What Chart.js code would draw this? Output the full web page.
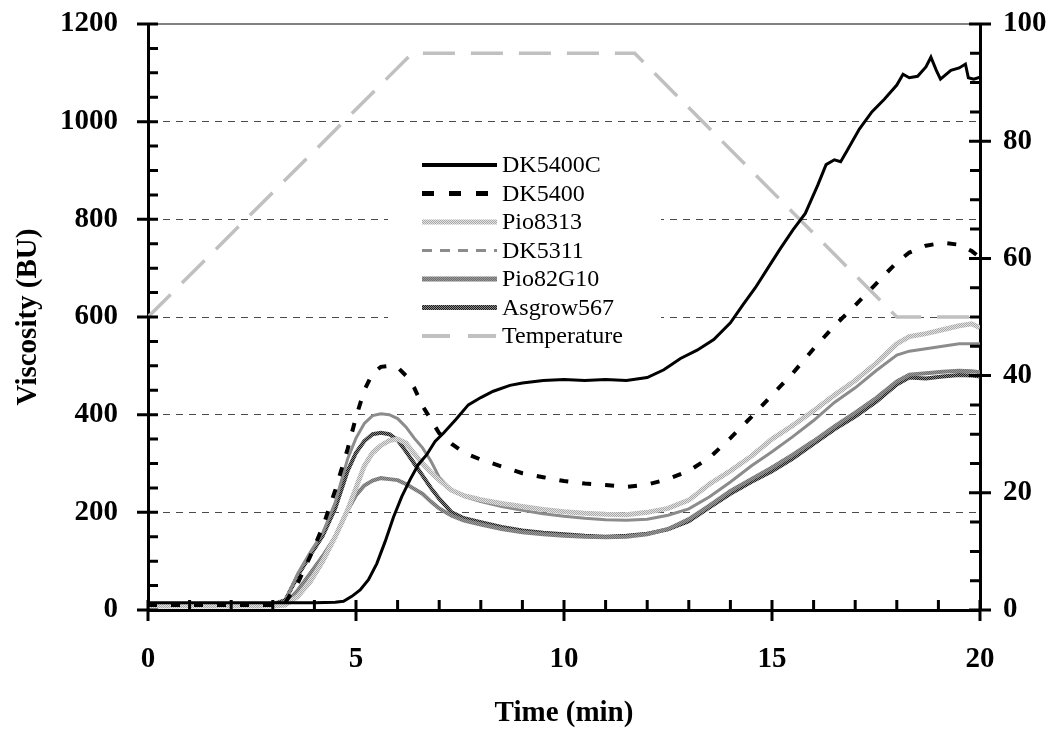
<!DOCTYPE html>
<html><head><meta charset="utf-8">
<script src="https://cdn.jsdelivr.net/npm/chart.js@4.4.1/dist/chart.umd.min.js"></script>
<style>html,body{margin:0;padding:0;background:#fff}</style>
</head><body>
<canvas id="c" width="1056" height="736" style="width:1056px;height:736px;display:block"></canvas>
<script>
// ---------- DATA ----------
const timeDK5400C = [0,1,2,3,4,4.5,4.7,4.9,5.1,5.3,5.5,5.7,5.9,6.1,6.3,6.5,6.7,6.9,7.1,7.4,7.7,8.0,8.3,8.7,9.0,9.5,10,10.5,11,11.5,12,12.4,12.8,13.2,13.6,14.0,14.3,14.6,14.9,15.2,15.5,15.8,16.1,16.3,16.5,16.65,16.8,17.1,17.4,17.7,18.0,18.15,18.3,18.5,18.7,18.82,18.95,19.05,19.3,19.5,19.65,19.72,19.85,20];
const viscDK5400C = [15,15,15,15,15,16,18,28,41,62,95,140,190,232,267,298,318,345,362,390,420,435,448,460,465,470,472,470,472,470,476,492,515,532,554,588,625,660,700,740,778,812,870,912,922,918,940,985,1020,1046,1075,1097,1090,1093,1112,1132,1105,1087,1105,1110,1118,1090,1087,1091];

const timeGroup = [0,1,2,3,3.3,3.6,3.9,4.2,4.5,4.8,5.0,5.2,5.4,5.6,5.8,6.0,6.2,6.4,6.6,6.8,7.0,7.3,7.6,8.0,8.5,9.0,9.5,10,10.5,11,11.5,12,12.5,13,13.5,14,14.5,15,15.5,16,16.5,17,17.5,18,18.3,18.7,19.1,19.5,19.8,20];
const viscDK5400   = [10,10,10,10,15,55,110,170,245,330,395,450,485,498,500,497,480,455,418,390,362,340,322,308,294,280,272,264,259,256,252,257,268,285,312,352,395,440,485,535,582,624,668,712,732,746,752,748,735,722];
const viscPio8313  = [8,8,8,8,10,28,58,100,150,205,250,295,322,337,347,350,342,320,300,282,266,245,234,226,218,212,206,201,198,196,195,200,208,225,258,285,315,350,378,408,440,470,505,545,560,566,574,582,586,578];
const viscDK5311   = [8,8,8,8,18,75,118,158,220,310,352,382,398,402,400,392,375,352,332,305,272,245,232,222,212,204,197,192,188,185,184,186,194,207,232,262,295,324,355,388,425,455,490,522,530,535,540,545,545,545];
const viscPio82G10 = [8,8,8,8,12,40,75,110,150,205,235,255,265,270,268,266,258,248,238,222,208,193,183,175,166,159,155,152,150,149,150,155,166,186,214,244,268,292,318,346,376,404,434,468,482,485,488,490,489,487];
const viscAsgrow567= [12,12,12,12,20,70,112,152,208,285,322,346,360,363,360,348,325,300,275,250,228,200,188,180,170,163,158,155,152,150,152,156,165,182,210,238,262,284,310,340,370,396,426,462,476,474,478,481,480,478];

const timeTemp = [0,6.35,11.7,18.0,20];
const tempC    = [50,95,95,50,50];

const viscTicks = [0,200,400,600,800,1000,1200];
const tempTicks = [0,20,40,60,80,100];
const timeTicks = [0,5,10,15,20];

// ---------- helpers ----------
const pts = (xs, ys) => xs.map((x, i) => ({x: x, y: ys[i]}));
const canvas = document.getElementById('c');
const ctx0 = canvas.getContext('2d');
function pattern(c1, c2) {
  const cv = document.createElement('canvas'); cv.width = 2; cv.height = 2;
  const g = cv.getContext('2d');
  g.fillStyle = c1; g.fillRect(0, 0, 2, 2);
  g.fillStyle = c2; g.fillRect(0, 0, 1, 1); g.fillRect(1, 1, 1, 1);
  return ctx0.createPattern(cv, 'repeat');
}
const FONT = '"Liberation Serif", "Times New Roman", serif';
const patPio8313 = pattern('#e2e2e2', '#a8a8a8');
const patPio82G10 = pattern('#9a9a9a', '#6e6e6e');
const patAsgrow = pattern('#8a8a8a', '#1e1e1e');

const datasets = [
  {label: 'DK5400C', data: pts(timeDK5400C, viscDK5400C), borderColor: '#000', borderWidth: 3, yAxisID: 'y', legendColor: '#000', legendWidth: 4},
  {label: 'DK5400', data: pts(timeGroup, viscDK5400), borderColor: '#000', borderWidth: 4, borderDash: [9, 14], yAxisID: 'y', legendColor: '#000', legendWidth: 5, legendDash: [12, 15]},
  {label: 'Pio8313', data: pts(timeGroup, viscPio8313), borderColor: patPio8313, borderWidth: 5, yAxisID: 'y', legendColor: patPio8313, legendWidth: 5},
  {label: 'DK5311', data: pts(timeGroup, viscDK5311), borderColor: '#8c8c8c', borderWidth: 3, yAxisID: 'y', legendColor: '#8c8c8c', legendWidth: 3, legendDash: [10, 8]},
  {label: 'Pio82G10', data: pts(timeGroup, viscPio82G10), borderColor: patPio82G10, borderWidth: 4, yAxisID: 'y', legendColor: patPio82G10, legendWidth: 5},
  {label: 'Asgrow567', data: pts(timeGroup, viscAsgrow567), borderColor: patAsgrow, borderWidth: 4, yAxisID: 'y', legendColor: patAsgrow, legendWidth: 5},
  {label: 'Temperature', data: pts(timeTemp, tempC), borderColor: '#c0c0c0', borderWidth: 3.5, borderDash: [32, 16], yAxisID: 'y2', legendColor: '#c0c0c0', legendWidth: 4, legendDash: [28, 18]}
];
datasets.forEach(d => { d.pointRadius = 0; d.tension = 0; d.fill = false; d.borderCapStyle = 'butt'; });

// ---------- plugins ----------
const LEG = {boxL: 388, boxR: 661, boxT: 147, boxB: 353, x0: 422, x1: 497, tx: 502, y0: 165, dy: 28.5};

const frameTicks = {
  id: 'frameTicks',
  beforeDatasetsDraw(chart) {
    const {ctx, chartArea: a} = chart;
    ctx.save();
    ctx.fillStyle = '#fff';
    ctx.fillRect(LEG.boxL, LEG.boxT, LEG.boxR - LEG.boxL, LEG.boxB - LEG.boxT);
    ctx.strokeStyle = '#808080'; ctx.lineWidth = 2;
    ctx.beginPath(); ctx.moveTo(a.left, a.top); ctx.lineTo(a.right, a.top); ctx.stroke();
    ctx.restore();
  },
  afterDraw(chart) {
    const {ctx, chartArea: a, scales} = chart;
    ctx.save();
    ctx.strokeStyle = '#000'; ctx.lineWidth = 3;
    ctx.beginPath();
    const ys = scales.y;
    for (let v = ys.min; v <= ys.max; v += 50) {
      const p = ys.getPixelForValue(v);
      if (v % 200 === 0) { ctx.moveTo(a.left - 11, p); ctx.lineTo(a.left + 10, p); }
      else { ctx.moveTo(a.left, p); ctx.lineTo(a.left + 10, p); }
    }
    const y2 = scales.y2;
    for (let v = y2.min; v <= y2.max; v += 5) {
      const p = y2.getPixelForValue(v);
      if (v % 20 === 0) { ctx.moveTo(a.right - 11, p); ctx.lineTo(a.right + 11, p); }
      else { ctx.moveTo(a.right - 10, p); ctx.lineTo(a.right, p); }
    }
    const xs = scales.x;
    for (let v = xs.min; v <= xs.max; v += 1) {
      const p = xs.getPixelForValue(v);
      if (v % 5 === 0) { ctx.moveTo(p, a.bottom - 10); ctx.lineTo(p, a.bottom + 11); }
      else { ctx.moveTo(p, a.bottom - 10); ctx.lineTo(p, a.bottom); }
    }
    ctx.stroke();
    ctx.restore();
  }
};

const innerLegend = {
  id: 'innerLegend',
  afterDatasetsDraw(chart) {
    const {ctx} = chart;
    ctx.save();
    ctx.font = '24px ' + FONT;
    ctx.textBaseline = 'middle';
    ctx.textAlign = 'left';
    chart.data.datasets.forEach((d, i) => {
      const y = LEG.y0 + i * LEG.dy;
      ctx.save();
      ctx.strokeStyle = d.legendColor; ctx.lineWidth = d.legendWidth;
      ctx.setLineDash(d.legendDash || []);
      ctx.beginPath(); ctx.moveTo(LEG.x0, y); ctx.lineTo(LEG.x1, y); ctx.stroke();
      ctx.restore();
      ctx.fillStyle = '#000';
      ctx.fillText(d.label, LEG.tx, y + 1);
    });
    ctx.restore();
  }
};

const tickFont = {family: FONT, size: 29, weight: 'bold'};
const plain = v => String(v);
const NONE = 'rgba(0,0,0,0)';

new Chart(canvas, {
  type: 'line',
  data: {datasets: datasets},
  plugins: [frameTicks, innerLegend],
  options: {
    responsive: false,
    devicePixelRatio: 1,
    animation: false,
    layout: {padding: {top: 24, left: 0, right: 0, bottom: 0}},
    plugins: {legend: {display: false}, tooltip: {enabled: false}},
    scales: {
      x: {
        type: 'linear', min: 0, max: 20,
        afterBuildTicks: s => { s.ticks = timeTicks.map(v => ({value: v})); },
        ticks: {font: tickFont, color: '#000', padding: 32, maxRotation: 0, callback: plain},
        grid: {drawOnChartArea: false, drawTicks: false},
        border: {color: '#000', width: 3},
        title: {display: true, text: 'Time (min)', font: tickFont, color: '#000', padding: {top: 0, bottom: 5}},
        afterFit: s => { s.height = 126; }
      },
      y: {
        type: 'linear', position: 'left', min: 0, max: 1200,
        afterBuildTicks: s => { s.ticks = viscTicks.map(v => ({value: v})); },
        ticks: {font: tickFont, color: '#000', padding: 3, callback: plain},
        grid: {
          drawTicks: true, tickLength: 27, tickColor: NONE, lineWidth: 1,
          color: c => (c.tick && (c.tick.value === 0 || c.tick.value === 1200)) ? NONE : '#4a4a4a'
        },
        border: {color: '#000', width: 3, dash: [7, 6]},
        title: {display: true, text: 'Viscosity (BU)', font: tickFont, color: '#000', padding: {top: 11, bottom: 0}},
        afterFit: s => { s.width = 148; }
      },
      y2: {
        type: 'linear', position: 'right', min: 0, max: 100,
        afterBuildTicks: s => { s.ticks = tempTicks.map(v => ({value: v})); },
        ticks: {font: tickFont, color: '#000', padding: 3, callback: plain},
        grid: {drawOnChartArea: false, drawTicks: true, tickLength: 20, tickColor: NONE},
        border: {color: '#000', width: 3},
        afterFit: s => { s.width = 76; }
      }
    }
  }
});
</script>
</body></html>
